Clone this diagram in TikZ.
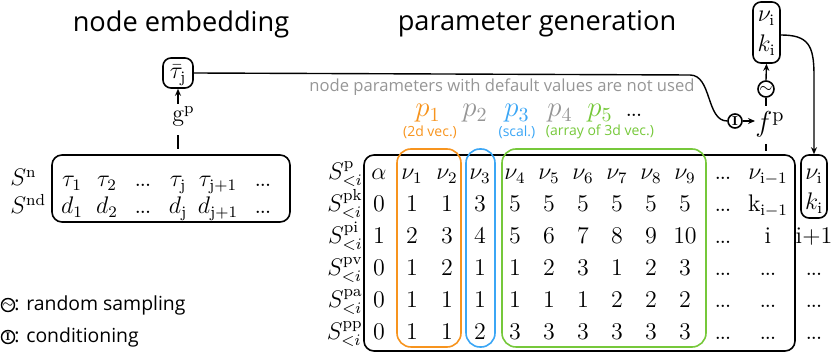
\documentclass[tikz,border=0pt]{standalone}
\usepackage{fontspec}
\newfontfamily\osans{Open Sans}
\usetikzlibrary{arrows.meta}
\definecolor{cOr}{RGB}{247,148,30}
\definecolor{cBl}{RGB}{59,166,245}
\definecolor{cGr}{RGB}{118,200,58}
\definecolor{cGy}{RGB}{150,150,150}
\newcommand{\dd}{\mathord{.}\mkern-1mu\mathord{.}\mkern-1mu\mathord{.}}
\begin{document}
\begin{tikzpicture}[x=0.5pt,y=-0.5pt,
  m/.style={font=\fontsize{12}{14}\selectfont, inner sep=0pt, anchor=base},
  mb/.style={font=\fontsize{14.4}{16}\selectfont, inner sep=0pt, anchor=base},
  title/.style={font=\osans\fontsize{13.6}{16}\selectfont, inner sep=0pt},
  legend/.style={font=\osans\fontsize{9.7}{12}\selectfont, inner sep=0pt, anchor=west},
  sub/.style={font=\osans\fontsize{7}{8}\selectfont, inner sep=0pt},
  box/.style={draw, line width=0.8pt, rounded corners=5pt, inner sep=0pt},
  cbox/.style={draw, line width=0.8pt, rounded corners=7pt, inner sep=0pt},
  circ/.style={draw, circle, line width=0.7pt, inner sep=0pt},
  arr/.style={line width=0.7pt, -{Stealth[length=3.5pt,width=3pt]}},
  ln/.style={line width=0.7pt}]
\useasboundingbox (0,0) rectangle (831,357);

% titles
\node[title] (t1) at (181,24) {node embedding};
\node[title] (t2) at (537,24) {parameter generation};

% node embedding
\node[box, rounded corners=4pt, minimum width=15pt, minimum height=15pt] (taubar) at (178,73) {};
\node[m] (taubartxt) at (178,79) {$\bar\tau_\mathrm{j}$};
\node[m, anchor=base west] (gp) at (172,122) {$\mathrm{g}^\mathrm{p}$};
\draw[arr, shorten <=1pt] (taubar.south |- gp.north) -- (taubar.south);
\node[box, minimum width=119pt, minimum height=33.5pt] (Sbox) at (171,188.5) {};
\draw[ln, shorten <=4pt, shorten >=2.5pt] (gp.south -| taubar.south) -- (Sbox.north -| taubar.south);
\node[m, anchor=base west] (Sn) at (10,186) {$S^\mathrm{n}$};
\node[m, anchor=base west] (Snd) at (10,214) {$S^\mathrm{nd}$};
\foreach \x/\e [count=\c] in {72/\tau_1,107/\tau_2,143/\dd,178/\tau_\mathrm{j},218/\tau_{\mathrm{j}+1},263/\dd}
  \node[m] (ta\c) at (\x,187) {$\e$};
\foreach \x/\e [count=\c] in {72/d_1,107/d_2,143/\dd,178/d_\mathrm{j},218/d_{\mathrm{j}+1},263/\dd}
  \node[m] (da\c) at (\x,214) {$\e$};

% parameter generation
\node[font=\osans\fontsize{8.3}{10}\selectfont, text=cGy, inner sep=0pt] (note) at (502,87) {node parameters with default values are not used};
\node[mb, text=cOr] (p1) at (428,117) {$p_1$};
\node[mb, text=cGy] (p2) at (475,117) {$p_2$};
\node[mb, text=cBl] (p3) at (517,117) {$p_3$};
\node[mb, text=cGy] (p4) at (560,117) {$p_4$};
\node[mb, text=cGr] (p5) at (600,117) {$p_5$};
\node[m] (pd) at (634,117) {$\dd$};
\node[sub, text=cOr] (s1) at (430,132) {(2d vec.)};
\node[sub, text=cBl] (s3) at (517,132) {(scal.)};
\node[sub, text=cGr] (s5) at (600,132) {(array of 3d vec.)};

\node[box, minimum width=215.5pt, minimum height=98pt] (main) at (579.5,253) {};
\node[cbox, draw=cOr, minimum width=32pt, minimum height=99pt] (obox) at (429,248) {};
\node[cbox, draw=cBl, minimum width=14.5pt, minimum height=99pt] (bbox) at (480.5,248) {};
\node[cbox, draw=cGr, minimum width=102pt, minimum height=99pt] (gbox) at (604,248) {};

\def\colx{{379,412,447,480,515,549,583,617,651,685,723,768}}
\foreach \y/\row [count=\r] in {
 180/{\alpha,\nu_1,\nu_2,\nu_3,\nu_4,\nu_5,\nu_6,\nu_7,\nu_8,\nu_9,\dd,\nu_{\mathrm{i}-1}},
 212/{0,1,1,3,5,5,5,5,5,5,\dd,\mathrm{k}_{\mathrm{i}-1}},
 244/{1,2,3,4,5,6,7,8,9,10,\dd,\mathrm{i}},
 276/{0,1,2,1,1,2,3,1,2,3,\dd,\dd},
 308/{0,1,1,1,1,1,1,2,2,2,\dd,\dd},
 340/{0,1,1,2,3,3,3,3,3,3,\dd,\dd}}{
  \foreach \e [count=\c] in \row {
    \pgfmathsetmacro\xx{\colx[\c-1]}
    \node[m] (t\r-\c) at (\xx,\y) {$\e$};
  }
}
\foreach \y/\s [count=\r] in {180/p,212/pk,244/pi,276/pv,308/pa,340/pp}
  \node[m, anchor=base east] (lab\r) at (363,\y) {$S^{\mathrm{\s}}_{<i}$};

% right column
\node[box, rounded corners=4pt, minimum width=13pt, minimum height=31.5pt] (rbox) at (814,186.5) {};
\node[m] (rv) at (814,180) {$\nu_\mathrm{i}$};
\node[m] (rk) at (814,210) {$k_\mathrm{i}$};
\node[m] (r3) at (814,244) {$\mathrm{i{+}1}$};
\node[m] (r4) at (814,276) {$\dd$};
\node[m] (r5) at (814,308) {$\dd$};
\node[m] (r6) at (814,340) {$\dd$};

% generation path
\node[circ, minimum size=7pt, line width=0.8pt] (cond) at (735,121) {\fontsize{6.5}{6.5}\selectfont\bfseries I};
\node[mb, anchor=base west] (fp) at (755,132) {$f^\mathrm{p}$};
\node[circ, minimum size=8pt, line width=0.8pt] (samp) at (766,89) {\fontsize{8}{8}\selectfont$\sim$};
\node[box, rounded corners=4pt, minimum width=13.5pt, minimum height=30.5pt] (topbox) at (766.5,32.5) {};
\node[m] (tv) at (766.5,22) {$\nu_\mathrm{i}$};
\node[m] (tk) at (766.5,52) {$k_\mathrm{i}$};

\coordinate (bend) at (690,75);
\draw[ln] (taubar.east) -- (bend) .. controls (712,75) and (706,121) .. (cond.west);
\draw[arr] (cond.east) -- (cond.east -| fp.west);
\draw[ln, shorten <=3pt] (fp.north -| samp) -- (samp.south);
\draw[arr] (samp.north) -- (topbox.south);
\draw[ln, shorten <=3pt, shorten >=1.5pt] (fp.south -| samp) -- (main.north -| samp);
\draw[arr] (topbox.east |- 0,35) .. controls (808,35) and (814,45) .. (814,75) -- (rbox.north);

% legend
\node[circ, minimum size=6.5pt] (lg1) at (8,305) {\fontsize{6.5}{6.5}\selectfont$\sim$};
\node[legend] (lt1) at (14,305) {: random sampling};
\node[circ, minimum size=6.5pt] (lg2) at (8,337) {\fontsize{5.5}{5.5}\selectfont\bfseries I};
\node[legend] (lt2) at (14,337) {: conditioning};
\end{tikzpicture}
\end{document}
